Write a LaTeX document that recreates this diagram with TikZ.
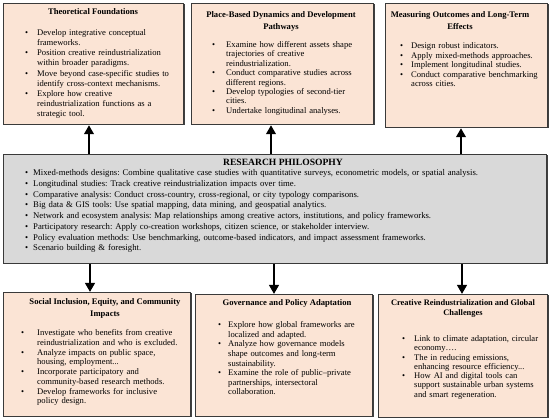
\documentclass[tikz,border=0pt]{standalone}
\usepackage{fontspec}
\setmainfont{Liberation Serif}
\usepackage{enumitem}
\usetikzlibrary{arrows.meta,calc,shadows}
\definecolor{peach}{HTML}{FBE4D5}
\definecolor{philgray}{HTML}{D9D9D9}
\definecolor{edgecol}{HTML}{3A3A3A}
\frenchspacing
\newenvironment{blist}[1]{\begin{itemize}[leftmargin=#1,labelwidth=#1,labelsep=0pt,align=left,itemsep=0pt,topsep=0pt,parsep=0pt,partopsep=0pt,label=\textbullet]}{\end{itemize}}
\begin{document}
\begin{tikzpicture}[x=1pt,y=-1pt,
  boxbase/.style={draw=edgecol,line width=1.2pt,inner sep=0pt,anchor=north west,
    drop shadow={shadow xshift=0.9pt,shadow yshift=-0.9pt,opacity=0.75,fill=black}},
  peachbox/.style={boxbase,fill=peach},
  graybox/.style={boxbase,fill=philgray},
  ttl/.style={inner sep=0pt,align=center,font=\bfseries\fontsize{8.6}{12}\selectfont},
  body/.style={inner sep=0pt,anchor=north west,align=left,text width=170pt},
  arr/.style={line width=2.7pt,draw=black,-{Triangle[width=9.5pt,length=9pt]}}]
\useasboundingbox (0,0) rectangle (550,419);
% boxes
\node[peachbox,minimum width=180pt,minimum height=121pt] (t1) at (3,3) {};
\node[peachbox,minimum width=182pt,minimum height=121pt] (t2) at (191,3) {};
\node[peachbox,minimum width=162pt,minimum height=124pt] (t3) at (385,3) {};
\node[graybox,minimum width=543pt,minimum height=109pt] (c) at (3,154) {};
\node[peachbox,minimum width=187pt,minimum height=124pt] (b1) at (3,292) {};
\node[peachbox,minimum width=177pt,minimum height=122pt] (b2) at (195,294) {};
\node[peachbox,minimum width=169pt,minimum height=123pt] (b3) at (378,294) {};
% titles
\node[ttl] (t1t) at (93,12) {Theoretical Foundations};
\node[ttl] (t2t) at (281,21) {Place-Based Dynamics and Development\\Pathways};
\node[ttl] (t3t) at (460,21) {Measuring Outcomes and Long-Term\\Effects};
\node[ttl,font=\bfseries\fontsize{9.6}{12}\selectfont] (ct) at (283,162) {RESEARCH PHILOSOPHY};
\node[ttl] (b1t) at (105,308.5) {Social Inclusion, Equity, and Community\\Impacts};
\node[ttl] (b2t) at (287,303) {Governance and Policy Adaptation};
\node[ttl,font=\bfseries\fontsize{8.4}{10}\selectfont] (b3t) at (463,309) {Creative Reindustrialization and Global\\Challenges};
% bodies
\node[body,font=\fontsize{8.6}{10.2}\selectfont] (t1b) at (25,25) {\begin{blist}{12pt}
\item Develop integrative conceptual\\frameworks.
\item Position creative reindustrialization\\within broader paradigms.
\item Move beyond case-specific studies to\\identify cross-context mechanisms.
\item Explore how creative\\reindustrialization functions as a\\strategic tool.
\end{blist}};
\node[body,font=\fontsize{8.6}{9.4}\selectfont] (t2b) at (212,38) {\begin{blist}{14pt}
\item Examine how different assets shape\\trajectories of creative\\reindustrialization.
\item Conduct comparative studies across\\different regions.
\item Develop typologies of second-tier\\cities.
\item Undertake longitudinal analyses.
\end{blist}};
\node[body,font=\fontsize{8.6}{9.5}\selectfont] (t3b) at (400,39) {\begin{blist}{11pt}
\item Design robust indicators.
\item Apply mixed-methods approaches.
\item Implement longitudinal studies.
\item Conduct comparative benchmarking\\across cities.
\end{blist}};
\node[body,text width=510pt,font=\fontsize{8.7}{10.7}\selectfont] (cb) at (25,165) {\begin{blist}{8pt}
\item Mixed-methods designs: Combine qualitative case studies with quantitative surveys, econometric models, or spatial analysis.
\item Longitudinal studies: Track creative reindustrialization impacts over time.
\item Comparative analysis: Conduct cross-country, cross-regional, or city typology comparisons.
\item Big data \& GIS tools: Use spatial mapping, data mining, and geospatial analytics.
\item Network and ecosystem analysis: Map relationships among creative actors, institutions, and policy frameworks.
\item Participatory research: Apply co-creation workshops, citizen science, or stakeholder interview.
\item Policy evaluation methods: Use benchmarking, outcome-based indicators, and impact assessment frameworks.
\item Scenario building \& foresight.
\end{blist}};
\node[body,font=\fontsize{8.6}{9.7}\selectfont] (b1b) at (21,326) {\begin{blist}{16pt}
\item Investigate who benefits from creative\\reindustrialization and who is excluded.
\item Analyze impacts on public space,\\housing, employment...
\item Incorporate participatory and\\community-based research methods.
\item Develop frameworks for inclusive\\policy design.
\end{blist}};
\node[body,font=\fontsize{8.6}{9.6}\selectfont] (b2b) at (218,318) {\begin{blist}{10pt}
\item Explore how global frameworks are\\localized and adapted.
\item Analyze how governance models\\shape outcomes and long-term\\sustainability.
\item Examine the role of public–private\\partnerships, intersectoral\\collaboration.
\end{blist}};
\node[body,font=\fontsize{8.6}{9.3}\selectfont] (b3b) at (402,332) {\begin{blist}{12pt}
\item Link to climate adaptation, circular\\economy….
\item The in reducing emissions,\\enhancing resource efficiency...
\item How AI and digital tools can\\support sustainable urban systems\\and smart regeneration.
\end{blist}};
% arrow anchors
\coordinate (u1) at (89,0);
\coordinate (u2) at (271,0);
\coordinate (u3) at (461,0);
\coordinate (d1) at (90,0);
\coordinate (d2) at (274,0);
\coordinate (d3) at (462,0);
\draw[arr] (c.north -| u1) -- (t1.south -| u1);
\draw[arr] (c.north -| u2) -- (t2.south -| u2);
\draw[arr] (c.north -| u3) -- (t3.south -| u3);
\draw[arr] (c.south -| d1) -- (b1.north -| d1);
\draw[arr] (c.south -| d2) -- (b2.north -| d2);
\draw[arr] (c.south -| d3) -- (b3.north -| d3);
\end{tikzpicture}
\end{document}
